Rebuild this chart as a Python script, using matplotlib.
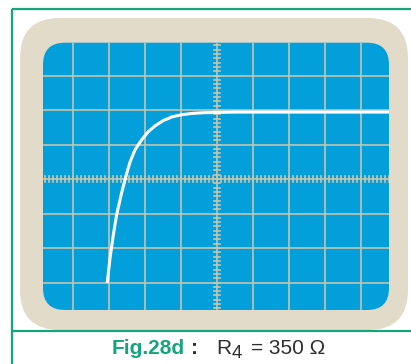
import matplotlib
matplotlib.use("Agg")
import matplotlib.pyplot as plt
import numpy as np
from matplotlib.patches import FancyBboxPatch

# Oscilloscope trace (screen divisions, origin at screen centre)
curve_x = [-3.05, -2.97, -2.88, -2.79, -2.65, -2.54, -2.42, -2.28, -2.09, -1.91,
           -1.72, -1.50, -1.25, -1.00, -0.70, -0.40, 0.00, 0.50, 1.50, 3.00, 4.80]
curve_y = [-3.01, -2.28, -1.62, -1.05, -0.40, 0.04, 0.48, 0.84, 1.14, 1.37,
           1.54, 1.69, 1.80, 1.86, 1.90, 1.92, 1.93, 1.94, 1.94, 1.94, 1.94]

# Graticule lines (divisions)
grid_x = [-4, -3, -2, -1, 0, 1, 2, 3, 4]
grid_y = [-3, -2, -1, 0, 1, 2, 3]

caption_fig = "Fig.28d"
caption_sep = ":"
caption_r = "R"
caption_sub = "4"
caption_val = "= 350 \u03a9"

W, H = 411, 364
fig = plt.figure(figsize=(W / 100, H / 100), dpi=100)
fig.patch.set_facecolor("white")

GREEN = "#14a67a"
BEZEL = "#e3dbc9"
SCREEN = "#029fdb"
GRID = "#cbc5ab"
DARK = "#2e2e2e"

# Background axes in pixel units
bg = fig.add_axes([0, 0, 1, 1])
bg.set_xlim(0, W)
bg.set_ylim(H, 0)
bg.axis("off")

bezel = FancyBboxPatch((20, 18), 388, 312,
                       boxstyle="round,pad=0,rounding_size=40",
                       facecolor=BEZEL, edgecolor="none", zorder=1)
bg.add_patch(bezel)

sx0, sy0, sx1, sy1 = 43, 42.7, 389, 310
screen = FancyBboxPatch((sx0, sy0), sx1 - sx0, sy1 - sy0,
                        boxstyle="round,pad=0,rounding_size=22",
                        facecolor=SCREEN, edgecolor="none", zorder=2)
bg.add_patch(screen)

# Green frame and caption separator
bg.plot([11.5, 11.5], [8.5, H + 5], color=GREEN, lw=1.6, zorder=3, solid_capstyle="butt")
bg.plot([11.5, W + 5], [8.5, 8.5], color=GREEN, lw=1.6, zorder=3, solid_capstyle="butt")
bg.plot([11.5, W + 5], [331, 331], color=GREEN, lw=1.6, zorder=3, solid_capstyle="butt")

# Screen axes in division units
cx, cy = 217.0, 179.0
px_x, px_y = 36.0, 34.5
ax = fig.add_axes([sx0 / W, 1 - sy1 / H, (sx1 - sx0) / W, (sy1 - sy0) / H])
ax.set_xlim((sx0 - cx) / px_x, (sx1 - cx) / px_x)
ax.set_ylim((cy - sy1) / px_y, (cy - sy0) / px_y)
ax.patch.set_alpha(0)
ax.axis("off")

arts = []
for gx in grid_x:
    arts.append(ax.axvline(gx, color=GRID, lw=1.15, zorder=3))
for gy in grid_y:
    arts.append(ax.axhline(gy, color=GRID, lw=1.15, zorder=3))

# Minor ticks on centre lines
xlo, xhi = ax.get_xlim()
ylo, yhi = ax.get_ylim()
tx = np.arange(np.ceil(xlo * 9), np.floor(xhi * 9) + 1) / 9
ty = np.arange(np.ceil(ylo * 8), np.floor(yhi * 8) + 1) / 8
th_x = 3.0 / px_y
th_y = 3.0 / px_x
for t in tx:
    arts.append(ax.plot([t, t], [-th_x, th_x], color=GRID, lw=1.2, zorder=3)[0])
for t in ty:
    arts.append(ax.plot([-th_y, th_y], [t, t], color=GRID, lw=1.2, zorder=3)[0])

arts.append(ax.plot(curve_x, curve_y, color="white", lw=2.2, zorder=4,
                    solid_capstyle="butt", solid_joinstyle="round")[0])
for a in arts:
    a.set_clip_path(screen)

# Caption
def fx(p):
    return p / W

def fy(p):
    return 1 - p / H

fs = 15
fig.text(fx(112), fy(353.5), caption_fig, color=GREEN, fontsize=fs, fontweight="bold",
         family="Liberation Sans", ha="left", va="baseline")
fig.text(fx(191), fy(353.5), caption_sep, color=DARK, fontsize=fs, fontweight="bold",
         family="Liberation Sans", ha="left", va="baseline")
fig.text(fx(216), fy(353.5), caption_r, color=DARK, fontsize=fs,
         family="Liberation Sans", ha="left", va="baseline")
fig.text(fx(232), fy(358.5), caption_sub, color=DARK, fontsize=13.5,
         family="Liberation Sans", ha="left", va="baseline")
fig.text(fx(251), fy(353.5), caption_val, color=DARK, fontsize=fs,
         family="Liberation Sans", ha="left", va="baseline")

fig.savefig("out.png", dpi=100, facecolor="white")
